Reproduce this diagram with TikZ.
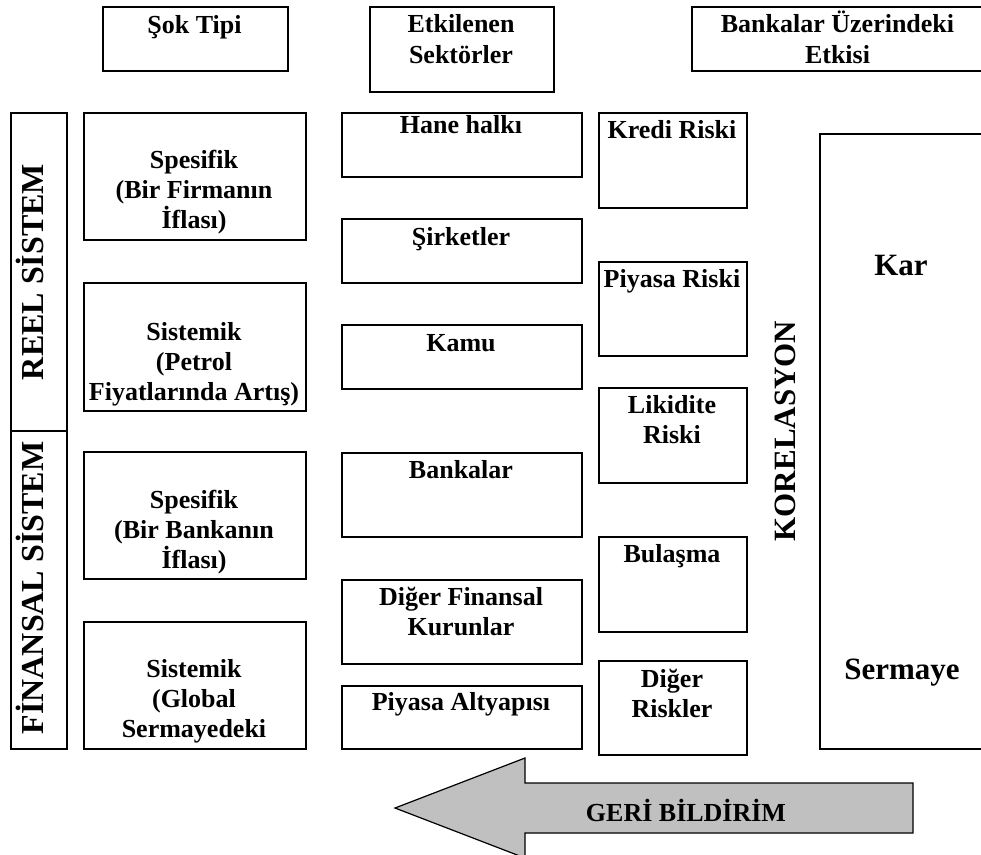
\documentclass[tikz,border=0pt]{standalone}
\usepackage{fontspec}
\setmainfont{Liberation Serif}
\begin{document}
\begin{tikzpicture}[x=1pt,y=-1pt,
  bx/.style={draw, line width=1.5pt, inner sep=0pt, anchor=north west},
  tx/.style={font=\fontsize{26}{30}\selectfont\bfseries, align=center, anchor=base, inner sep=0pt},
  hd/.style={tx, font=\fontsize{26}{31}\selectfont\bfseries},
  vt/.style={font=\fontsize{32}{36}\selectfont\bfseries, anchor=base, rotate=90, inner sep=0pt},
  big/.style={font=\fontsize{31}{36}\selectfont\bfseries, anchor=base, inner sep=0pt},
  fb/.style={draw=black, line width=1.2pt, fill={rgb,255:red,192;green,192;blue,192}}]
\useasboundingbox (0,0) rectangle (981,854);
% header boxes
\node[bx, minimum width=185pt, minimum height=64pt] (sok) at (102,6) {};
\node[hd] (sokt) at (194.5,33) {Şok Tipi};
\node[bx, minimum width=184pt, minimum height=85pt] (etk) at (369,6) {};
\node[hd] (etkt) at (461,63) {Etkilenen\\Sektörler};
\node[bx, minimum width=293pt, minimum height=64pt] (bue) at (691,6) {};
\node[hd] (buet) at (837.5,63) {Bankalar Üzerindeki\\Etkisi};
% system boxes
\node[bx, minimum width=56pt, minimum height=318pt] (reel) at (10,112) {};
\node[vt] (reelt) at (43,272) {REEL SİSTEM};
\node[bx, minimum width=56pt, minimum height=318pt] (fin) at (10,430) {};
\node[vt] (fint) at (43,588) {FİNANSAL SİSTEM};
% shock type
\node[bx, minimum width=222pt, minimum height=127pt] (sp1) at (83,112) {};
\node[tx] (sp1t) at (194,228) {Spesifik\\(Bir Firmanın\\İflası)};
\node[bx, minimum width=222pt, minimum height=128pt] (sy1) at (83,282) {};
\node[tx] (sy1t) at (194,400) {Sistemik\\(Petrol\\Fiyatlarında Artış)};
\node[bx, minimum width=222pt, minimum height=127pt] (sp2) at (83,451) {};
\node[tx] (sp2t) at (194,568) {Spesifik\\(Bir Bankanın\\İflası)};
\node[bx, minimum width=222pt, minimum height=127pt] (sy2) at (83,621) {};
\node[tx] (sy2t) at (194,737) {Sistemik\\(Global\\Sermayedeki};
% sectors
\node[bx, minimum width=240pt, minimum height=64pt] (hane) at (341,112) {};
\node[tx] (hanet) at (461,133) {Hane halkı};
\node[bx, minimum width=240pt, minimum height=64pt] (sirk) at (341,218) {};
\node[tx] (sirkt) at (461,245) {Şirketler};
\node[bx, minimum width=240pt, minimum height=64pt] (kamu) at (341,324) {};
\node[tx] (kamut) at (461,351) {Kamu};
\node[bx, minimum width=240pt, minimum height=84pt] (bank) at (341,452) {};
\node[tx] (bankt) at (461,478) {Bankalar};
\node[bx, minimum width=240pt, minimum height=84pt] (dfk) at (341,579) {};
\node[tx] (dfkt) at (461,635) {Diğer Finansal\\Kurunlar};
\node[bx, minimum width=240pt, minimum height=63pt] (pia) at (341,685) {};
\node[tx] (piat) at (461,710) {Piyasa Altyapısı};
% risks
\node[bx, minimum width=148pt, minimum height=95pt] (kredi) at (598,112) {};
\node[tx] (kredit) at (672,138) {Kredi Riski};
\node[bx, minimum width=148pt, minimum height=94pt] (piy) at (598,261) {};
\node[tx] (piyt) at (672,287) {Piyasa Riski};
\node[bx, minimum width=148pt, minimum height=95pt] (lik) at (598,387) {};
\node[tx] (likt) at (672,443) {Likidite\\Riski};
\node[bx, minimum width=148pt, minimum height=95pt] (bul) at (598,536) {};
\node[tx] (bult) at (672,562) {Bulaşma};
\node[bx, minimum width=148pt, minimum height=94pt] (dig) at (598,660) {};
\node[tx] (digt) at (672,717) {Diğer\\Riskler};
% correlation
\node[vt, font=\fontsize{31}{36}\selectfont\bfseries] (kor) at (795,431) {KORELASYON};
% profit / capital
\node[bx, minimum width=170pt, minimum height=615pt] (bigb) at (819,133) {};
\node[big] (kar) at (901,275) {Kar};
\node[big] (serm) at (902,679) {Sermaye};
% feedback arrow
\coordinate (a1) at (913,783);
\coordinate (a2) at (525,783);
\coordinate (a3) at (525,758);
\coordinate (tip) at (395,808);
\coordinate (a5) at (525,858);
\coordinate (a6) at (525,833);
\coordinate (a7) at (913,833);
\draw[fb] (a1) -- (a2) -- (a3) -- (tip) -- (a5) -- (a6) -- (a7) -- cycle;
\node[tx] (geri) at (686,821) {GERİ BİLDİRİM};
\end{tikzpicture}
\end{document}
